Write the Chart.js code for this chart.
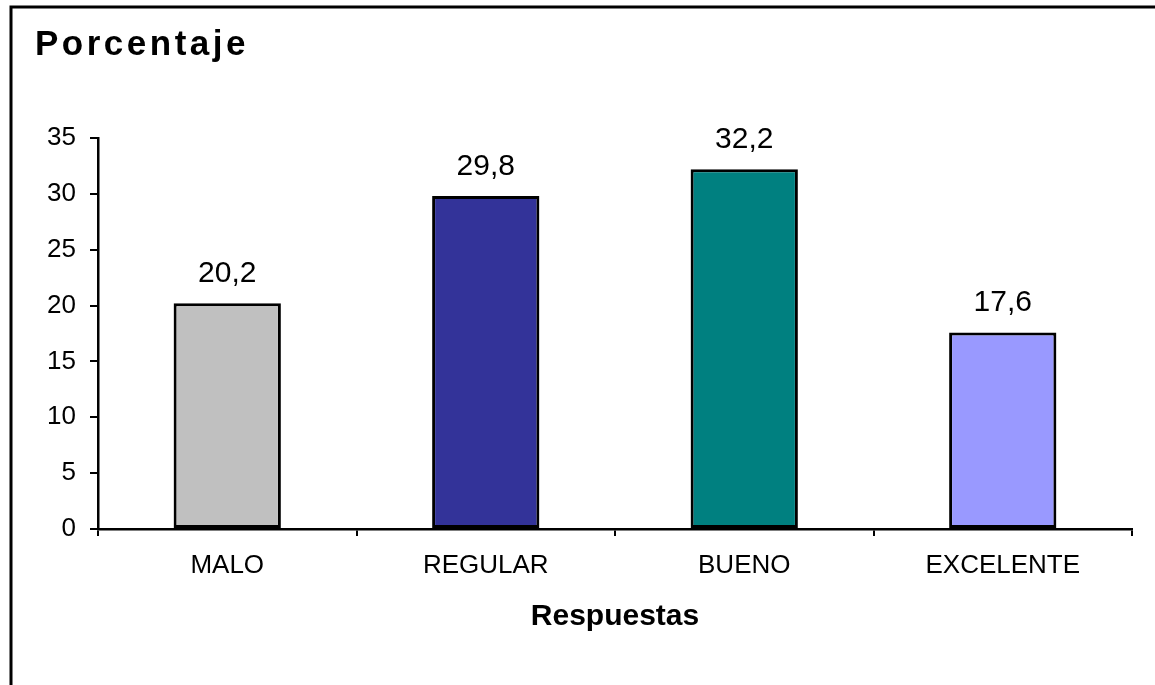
<!DOCTYPE html>
<html lang="es">
<head>
<meta charset="utf-8">
<title>Porcentaje por respuesta</title>
<script src="https://cdn.jsdelivr.net/npm/chart.js@4.4.1/dist/chart.umd.min.js"></script>
<style>
  html, body { margin: 0; padding: 0; background: #ffffff; }
  canvas { display: block; }
</style>
</head>
<body>
<canvas id="chart" width="1155" height="685"></canvas>
<script>
// Survey answers and their share (%)
const categories = ['MALO', 'REGULAR', 'BUENO', 'EXCELENTE'];
const percentages = [20.2, 29.8, 32.2, 17.6];
const yTickValues = [0, 5, 10, 15, 20, 25, 30, 35];

const chartTitle = 'Porcentaje';
const xAxisTitle = 'Respuestas';

// Bar fills, one per answer
const barFills = ['#C0C0C0', '#333399', '#008080', '#9999FF'];

const FONT = '"Liberation Sans", Arial, Helvetica, sans-serif';

// Decimal comma for the value labels
const fmt = v => v.toFixed(1).replace('.', ',');

// Frame along the top and left edges, plus the heading in the top-left corner
const framePlugin = {
  id: 'frameAndHeading',
  afterDraw(chart) {
    const ctx = chart.ctx;
    ctx.save();
    ctx.strokeStyle = '#000000';
    ctx.lineWidth = 3;
    ctx.beginPath();
    ctx.moveTo(11, chart.height);
    ctx.lineTo(11, 7);
    ctx.lineTo(chart.width, 7);
    ctx.stroke();

    ctx.fillStyle = '#000000';
    ctx.font = 'bold 35px ' + FONT;
    ctx.textAlign = 'left';
    ctx.textBaseline = 'alphabetic';
    if ('letterSpacing' in ctx) ctx.letterSpacing = '3.5px';
    ctx.fillText(chartTitle, 35, 55);
    ctx.restore();
  }
};

// Value written above each bar
const valueLabels = {
  id: 'valueLabels',
  afterDatasetsDraw(chart) {
    const ctx = chart.ctx;
    const meta = chart.getDatasetMeta(0);
    ctx.save();
    ctx.fillStyle = '#000000';
    ctx.font = '30px ' + FONT;
    ctx.textAlign = 'center';
    ctx.textBaseline = 'alphabetic';
    meta.data.forEach((bar, i) => {
      ctx.fillText(fmt(percentages[i]), bar.x, bar.y - 21);
    });
    ctx.restore();
  }
};

new Chart(document.getElementById('chart'), {
  type: 'bar',
  data: {
    labels: categories,
    datasets: [{
      data: percentages,
      backgroundColor: barFills,
      borderColor: '#000000',
      borderWidth: 3,
      borderSkipped: false,
      categoryPercentage: 1.0,
      barPercentage: 0.415
    }]
  },
  options: {
    responsive: false,
    animation: false,
    layout: { padding: { left: 0, right: 23, top: 138, bottom: 0 } },
    plugins: {
      legend: { display: false },
      title: { display: false },
      tooltip: { enabled: false }
    },
    scales: {
      x: {
        grid: {
          display: true,
          drawOnChartArea: false,
          drawTicks: true,
          tickLength: 7,
          color: '#000000',
          lineWidth: 2
        },
        border: { display: true, color: '#000000', width: 2.5 },
        ticks: {
          color: '#000000',
          font: { family: FONT, size: 26 },
          padding: 14,
          maxRotation: 0,
          autoSkip: false
        },
        title: {
          display: true,
          text: xAxisTitle,
          color: '#000000',
          font: { family: FONT, size: 30, weight: 'bold' },
          padding: { top: 0, bottom: 50 }
        },
        afterFit(scale) { scale.height = 156; }
      },
      y: {
        min: 0,
        max: 35,
        afterBuildTicks(scale) {
          scale.ticks = yTickValues.map(v => ({ value: v }));
        },
        grid: {
          display: true,
          drawOnChartArea: false,
          drawTicks: true,
          tickLength: 8,
          color: '#000000',
          lineWidth: 2
        },
        border: { display: true, color: '#000000', width: 2.5 },
        ticks: {
          color: '#000000',
          font: { family: FONT, size: 26 },
          padding: 14
        },
        afterFit(scale) { scale.width = 98; }
      }
    }
  },
  plugins: [framePlugin, valueLabels]
});
</script>
</body>
</html>
